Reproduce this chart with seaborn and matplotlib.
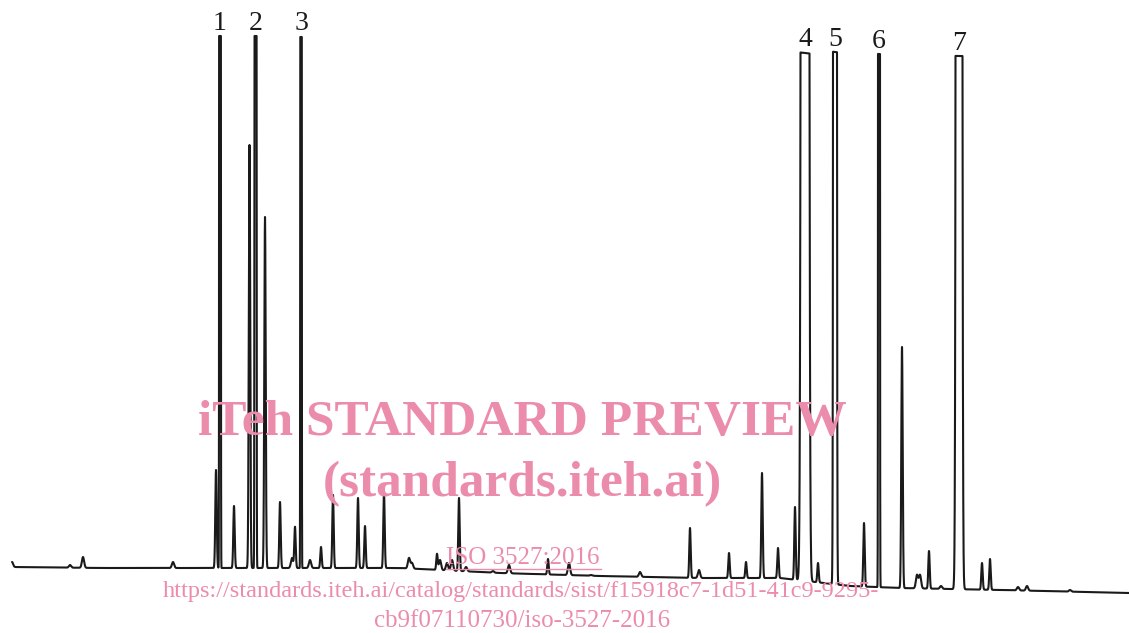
import numpy as np
import pandas as pd
import matplotlib
matplotlib.use("Agg")
import matplotlib.pyplot as plt
import seaborn as sns

# ---- data (retention position, response) ----
baseline_t = [12, 100, 200, 300, 400, 500, 600, 700, 780, 850, 900, 1000, 1129]
baseline_v = [66, 65, 65, 65, 65, 60, 57, 55, 55, 47, 45, 43, 40]

minor_t = [12, 70, 83, 173, 216, 234, 249.5, 265, 280, 292, 295, 310, 321, 333,
           358, 365, 384, 409, 412, 437, 440, 447, 452, 459, 466, 493, 509, 548,
           569, 591, 640, 690, 699, 729, 746, 762, 770, 778, 795, 818, 864, 902,
           917, 920, 929, 941, 982, 990, 1018, 1027, 1070]
minor_h = [71, 68, 76, 71, 163, 127, 488, 416, 131, 75, 106, 73, 86, 138,
           135, 107, 140, 75, 70, 79, 73, 70, 73, 135, 66, 62, 68, 74,
           70, 58, 61, 105, 63, 80, 71, 160, 55, 85, 126, 70, 110, 286,
           58, 58, 82, 47, 70, 74, 46, 47, 43]

main_labels = ["1", "2", "3", "4", "5", "6", "7"]
main_t = [220, 255.5, 301, 805, 835, 879, 959]
main_h = [597, 597, 596, 580, 581, 579, 577]
main_w = [1.8, 2.2, 1.6, 9.0, 4.0, 2.0, 7.0]

# ---- build trace ----
t = np.arange(12, 1129, 0.05)
sig = np.interp(t, baseline_t, baseline_v)
for c, h in zip(minor_t, minor_h):
    b = np.interp(c, baseline_t, baseline_v)
    s = 0.7 if h - b > 15 else 1.1
    sig = sig + (h - b) * np.exp(-0.5 * ((t - c) / s) ** 2)
K = 40.0
for c, h, w in zip(main_t, main_h, main_w):
    b = np.interp(c, baseline_t, baseline_v)
    s = (w / 2) / np.sqrt(2 * np.log(K))
    g = np.minimum(K * (h - b) * np.exp(-0.5 * ((t - c) / s) ** 2), h - b)
    sig = sig + g

df = pd.DataFrame({"t": t, "signal": sig})

sns.set_style("white")
fig = plt.figure(figsize=(11.29, 6.33), dpi=100)
ax = fig.add_axes([0, 0, 1, 1])
sns.lineplot(data=df, x="t", y="signal", ax=ax, color="#1a1a1a", linewidth=1.5,
             estimator=None, sort=False)
ax.set_xlim(0, 1129)
ax.set_ylim(0, 633)
ax.axis("off")

serif = ["Liberation Serif", "DejaVu Serif"]
for lab, c, h in zip(main_labels, main_t, main_h):
    ax.text(c, h + 13, lab, ha="center", va="center", fontsize=20,
            family=serif, color="#1a1a1a")

pink = "#ec8cab"
ax.text(522, 210, "iTeh STANDARD PREVIEW", ha="center", va="center",
        fontsize=37, fontweight="bold", family=serif, color=pink, zorder=5)
ax.text(522, 149, "(standards.iteh.ai)", ha="center", va="center",
        fontsize=37, fontweight="bold", family=serif, color=pink, zorder=5)
ax.text(523, 75, "ISO 3527:2016", ha="center", va="center",
        fontsize=18, family=serif, color=pink, zorder=5)
ax.plot([446, 601], [64, 64], color=pink, lw=1.0, zorder=5)
ax.text(521, 41, "https://standards.iteh.ai/catalog/standards/sist/f15918c7-1d51-41c9-9295-",
        ha="center", va="center", fontsize=17.5, family=serif, color=pink, zorder=5)
ax.text(522, 12, "cb9f07110730/iso-3527-2016", ha="center", va="center",
        fontsize=18, family=serif, color=pink, zorder=5)

fig.savefig("out.png", dpi=100)
